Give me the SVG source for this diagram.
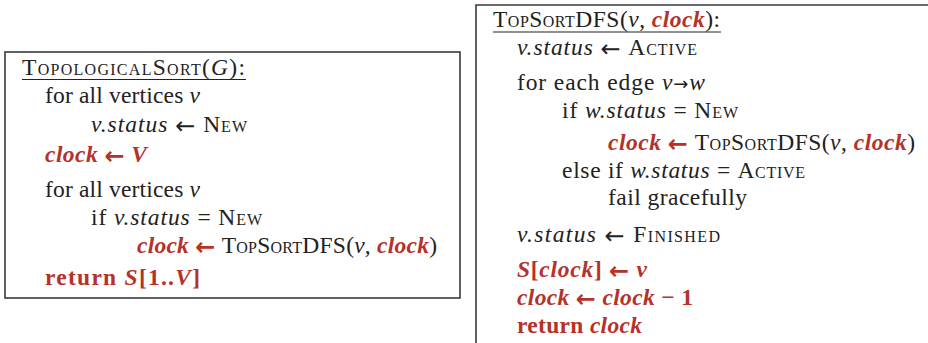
<svg xmlns="http://www.w3.org/2000/svg" width="928" height="343" viewBox="0 0 928 343">
<style>
text{font-family:"Liberation Serif","DejaVu Serif",serif;font-size:23.5px;fill:#222}
.r{fill:#b5322a;font-weight:bold}
.i{font-style:italic}
.sc{font-variant:small-caps}
.a{font-family:"DejaVu Sans",sans-serif;font-size:24px;font-weight:normal;baseline-shift:-1.5px}
.r .a,.a.r{font-weight:bold}
.sa{font-family:"DejaVu Sans",sans-serif;font-size:18px}
.box{fill:none;stroke:#3a3a3a;stroke-width:1.6}
.ul{stroke:#222;stroke-width:1.2}
</style>
<rect width="928" height="343" fill="#fff"/>
<g id="topologicalSort">
<rect class="box" x="5" y="52" width="455" height="246"/>
<text x="22" y="75" textLength="223" lengthAdjust="spacing"><tspan class="sc">TopologicalSort</tspan>(<tspan class="i">G</tspan>):</text>
<line class="ul" x1="22" y1="79.5" x2="246" y2="79.5"/>
<text x="45" y="103" textLength="155" lengthAdjust="spacing">for all vertices <tspan class="i">v</tspan></text>
<text x="91" y="132" textLength="156" lengthAdjust="spacing"><tspan class="i">v.status</tspan> <tspan class="a">←</tspan> <tspan class="sc">New</tspan></text>
<text x="45" y="162" textLength="102" lengthAdjust="spacing"><tspan class="r i">clock</tspan><tspan class="r"> </tspan><tspan class="a r">←</tspan><tspan class="r"> </tspan><tspan class="r i">V</tspan></text>
<text x="45" y="197" textLength="155" lengthAdjust="spacing">for all vertices <tspan class="i">v</tspan></text>
<text x="91" y="225" textLength="171" lengthAdjust="spacing">if <tspan class="i">v.status</tspan> = <tspan class="sc">New</tspan></text>
<text x="137" y="253" textLength="300" lengthAdjust="spacing"><tspan class="r i">clock</tspan><tspan class="r"> </tspan><tspan class="a r">←</tspan><tspan class="r"> </tspan><tspan class="sc">TopSort</tspan>DFS(<tspan class="i">v</tspan>, <tspan class="r i">clock</tspan>)</text>
<text x="45" y="285" textLength="155" lengthAdjust="spacing"><tspan class="r">return </tspan><tspan class="r i">S</tspan><tspan class="r">[1..</tspan><tspan class="r i">V</tspan><tspan class="r">]</tspan></text>
</g>
<g id="topSortDFS">
<path class="box" d="M476,345 V5 H930"/>
<text x="493" y="27" textLength="227" lengthAdjust="spacing"><tspan class="sc">TopSort</tspan>DFS(<tspan class="i">v</tspan>, <tspan class="r i">clock</tspan>):</text>
<line class="ul" x1="493" y1="32" x2="721" y2="32"/>
<text x="517" y="55" textLength="180" lengthAdjust="spacing"><tspan class="i">v.status</tspan> <tspan class="a">←</tspan> <tspan class="sc">Active</tspan></text>
<text x="517" y="90" textLength="188" lengthAdjust="spacing">for each edge <tspan class="i">v</tspan><tspan class="sa">→</tspan><tspan class="i">w</tspan></text>
<text x="562" y="118" textLength="176" lengthAdjust="spacing">if <tspan class="i">w.status</tspan> = <tspan class="sc">New</tspan></text>
<text x="608" y="150" textLength="307" lengthAdjust="spacing"><tspan class="r i">clock</tspan><tspan class="r"> </tspan><tspan class="a r">←</tspan><tspan class="r"> </tspan><tspan class="sc">TopSort</tspan>DFS(<tspan class="i">v</tspan>, <tspan class="r i">clock</tspan>)</text>
<text x="562" y="178" textLength="243" lengthAdjust="spacing">else if <tspan class="i">w.status</tspan> = <tspan class="sc">Active</tspan></text>
<text x="608" y="205" textLength="139" lengthAdjust="spacing">fail gracefully</text>
<text x="517" y="242" textLength="203" lengthAdjust="spacing"><tspan class="i">v.status</tspan> <tspan class="a">←</tspan> <tspan class="sc">Finished</tspan></text>
<text x="517" y="277" textLength="130" lengthAdjust="spacing"><tspan class="r i">S</tspan><tspan class="r">[</tspan><tspan class="r i">clock</tspan><tspan class="r">] </tspan><tspan class="a r">←</tspan><tspan class="r"> </tspan><tspan class="r i">v</tspan></text>
<text x="517" y="305" textLength="176" lengthAdjust="spacing"><tspan class="r i">clock</tspan><tspan class="r"> </tspan><tspan class="a r">←</tspan><tspan class="r"> </tspan><tspan class="r i">clock</tspan><tspan class="r"> − 1</tspan></text>
<text x="517" y="333" textLength="125" lengthAdjust="spacing"><tspan class="r">return </tspan><tspan class="r i">clock</tspan></text>
</g>
</svg>
